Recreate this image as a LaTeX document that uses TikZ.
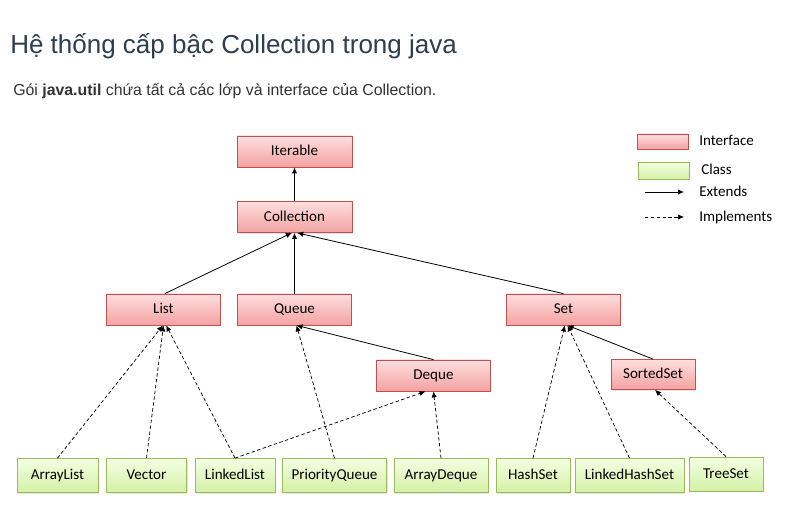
\documentclass[tikz,border=0pt]{standalone}
\usepackage{fontspec}
\setmainfont{Liberation Sans}
\newfontfamily\boxfont{Carlito}
\usetikzlibrary{arrows.meta,shadows}
\definecolor{titlecol}{HTML}{2C3E50}
\definecolor{subcol}{HTML}{333333}
\definecolor{itop}{HTML}{FFDEDE}
\definecolor{ibot}{HTML}{F3A2A2}
\definecolor{iborder}{HTML}{C0504D}
\definecolor{ctop}{HTML}{F3FFE2}
\definecolor{cbot}{HTML}{D3F0A6}
\definecolor{cborder}{HTML}{9BBB59}
\tikzset{
  ibox/.style={draw=iborder, line width=0.6pt, top color=itop, bottom color=ibot,
    minimum height=23.25pt, minimum width=85pt, inner sep=0pt,
    text height=8.2pt, text depth=1.6pt,
    font=\boxfont\fontsize{11.3pt}{13pt}\selectfont,
    drop shadow={shadow xshift=0.8pt, shadow yshift=-0.8pt, opacity=0.2}},
  cbox/.style={draw=cborder, line width=0.6pt, top color=ctop, bottom color=cbot,
    minimum height=25.5pt, inner sep=0pt,
    text height=8.2pt, text depth=1.6pt,
    font=\boxfont\fontsize{11.3pt}{13pt}\selectfont,
    drop shadow={shadow xshift=0.8pt, shadow yshift=-0.8pt, opacity=0.2}},
  ext/.style={-{Latex[length=4.5pt,width=4pt]}, line width=0.6pt, black},
  impl/.style={-{Latex[length=4.5pt,width=4pt]}, line width=0.55pt, black, dash pattern=on 2.6pt off 1.8pt},
  legtext/.style={anchor=west, inner sep=0pt, text height=8.2pt, text depth=1.6pt, font=\boxfont\fontsize{11.3pt}{13pt}\selectfont},
}
\begin{document}
\begin{tikzpicture}[x=0.75pt,y=-0.75pt]
\useasboundingbox[fill=white] (0,0) rectangle (790,531);
% title
\node[anchor=base west, inner sep=0pt, text=titlecol, font=\fontsize{19.5pt}{22pt}\selectfont] (title) at (10,54) {Hệ thống cấp bậc Collection trong java};
\node[anchor=base west, inner sep=0pt, text=subcol, font=\fontsize{11.9pt}{14pt}\selectfont] (sub) at (13,96) {Gói \textbf{java.util} chứa tất cả các lớp và interface của Collection.};
% interfaces
\node[ibox, minimum width=86.25pt] (iter) at (294.5,151.5) {Iterable};
\node[ibox, minimum width=86.25pt] (coll) at (294.5,217) {Collection};
\node[ibox] (list) at (163.5,309.5) {List};
\node[ibox] (queue) at (294.5,309.5) {Queue};
\node[ibox] (set) at (563.5,309.5) {Set};
\node[ibox] (deque) at (433.5,375.5) {Deque};
\node[ibox, minimum width=63pt, minimum height=22.5pt] (sorted) at (653,374.5) {SortedSet};
% classes
\node[cbox, minimum width=60.75pt] (alist) at (57.5,475.5) {ArrayList};
\node[cbox, minimum width=60pt] (vector) at (146.5,475.5) {Vector};
\node[cbox, minimum width=60pt] (llist) at (235,475.5) {LinkedList};
\node[cbox, minimum width=78pt] (pq) at (334.5,475.5) {PriorityQueue};
\node[cbox, minimum width=70.5pt] (adeque) at (441,475.5) {ArrayDeque};
\node[cbox, minimum width=55.5pt] (hset) at (533,475.5) {HashSet};
\node[cbox, minimum width=81.75pt] (lhset) at (629.5,475.5) {LinkedHashSet};
\node[cbox, minimum width=55.5pt] (tset) at (726,474) {TreeSet};
% extends
\draw[ext] (coll.north) -- (iter.south);
\draw[ext] ([xshift=1pt]list.north) -- ([xshift=-2pt]coll.south);
\draw[ext] (queue.north) -- (coll.south);
\draw[ext] (set.north) -- ([xshift=2pt]coll.south);
\draw[ext] (deque.north) -- ([xshift=1.5pt]queue.south);
\draw[ext] (sorted.north) -- ([xshift=3pt]set.south);
% implements
\draw[impl] (alist.north) -- ([xshift=-0.5pt]list.south);
\draw[impl] (vector.north) -- (list.south);
\draw[impl] (llist.north) -- ([xshift=2pt]list.south);
\draw[impl] (llist.north) -- ([xshift=-6pt]deque.south);
\draw[impl] (pq.north) -- ([xshift=1.5pt]queue.south);
\draw[impl] (adeque.north) -- (deque.south);
\draw[impl] (hset.north) -- ([xshift=1pt]set.south);
\draw[impl] (lhset.north) -- ([xshift=3pt]set.south);
\draw[impl] (tset.north) -- ([xshift=1.5pt]sorted.south);
% legend
\node[draw=iborder, line width=0.6pt, top color=itop, bottom color=ibot, minimum width=38.25pt, minimum height=11.25pt, inner sep=0pt] (lgi) at (662.5,141.5) {};
\node[draw=cborder, line width=0.6pt, top color=ctop, bottom color=cbot, minimum width=38.25pt, minimum height=12.75pt, inner sep=0pt] (lgc) at (663.5,170.5) {};
\node[legtext] (lti) at (699,141) {Interface};
\node[legtext] (ltc) at (701,170) {Class};
\node[legtext] (lte) at (699,192) {Extends};
\node[legtext] (ltm) at (699,217) {Implements};
\coordinate (ea) at (645,192);
\coordinate (eb) at (684,192);
\coordinate (ma) at (645,217);
\coordinate (mb) at (684,217);
\draw[ext] (ea) -- (eb);
\draw[impl] (ma) -- (mb);
\end{tikzpicture}
\end{document}
